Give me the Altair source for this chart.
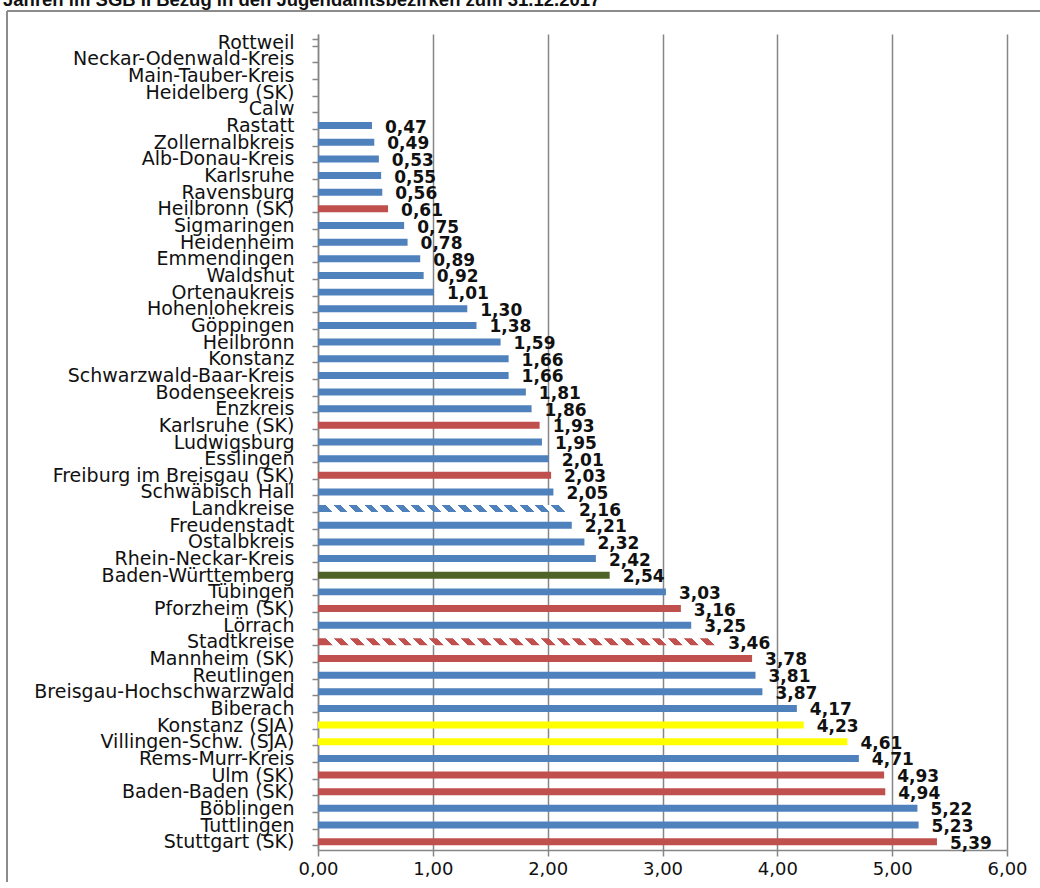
import altair as alt
import pandas as pd

title_text = "Jahren im SGB II Bezug in den Jugendamtsbezirken zum 31.12.2017"

names = [
    "Rottweil", "Neckar-Odenwald-Kreis", "Main-Tauber-Kreis", "Heidelberg (SK)", "Calw",
    "Rastatt", "Zollernalbkreis", "Alb-Donau-Kreis", "Karlsruhe", "Ravensburg",
    "Heilbronn (SK)", "Sigmaringen", "Heidenheim", "Emmendingen", "Waldshut",
    "Ortenaukreis", "Hohenlohekreis", "Göppingen", "Heilbronn", "Konstanz",
    "Schwarzwald-Baar-Kreis", "Bodenseekreis", "Enzkreis", "Karlsruhe (SK)", "Ludwigsburg",
    "Esslingen", "Freiburg im Breisgau (SK)", "Schwäbisch Hall", "Landkreise", "Freudenstadt",
    "Ostalbkreis", "Rhein-Neckar-Kreis", "Baden-Württemberg", "Tübingen", "Pforzheim (SK)",
    "Lörrach", "Stadtkreise", "Mannheim (SK)", "Reutlingen", "Breisgau-Hochschwarzwald",
    "Biberach", "Konstanz (SJA)", "Villingen-Schw. (SJA)", "Rems-Murr-Kreis", "Ulm (SK)",
    "Baden-Baden (SK)", "Böblingen", "Tuttlingen", "Stuttgart (SK)",
]
values = [
    0, 0, 0, 0, 0,
    0.47, 0.49, 0.53, 0.55, 0.56,
    0.61, 0.75, 0.78, 0.89, 0.92,
    1.01, 1.30, 1.38, 1.59, 1.66,
    1.66, 1.81, 1.86, 1.93, 1.95,
    2.01, 2.03, 2.05, 2.16, 2.21,
    2.32, 2.42, 2.54, 3.03, 3.16,
    3.25, 3.46, 3.78, 3.81, 3.87,
    4.17, 4.23, 4.61, 4.71, 4.93,
    4.94, 5.22, 5.23, 5.39,
]
types = [
    "LK", "LK", "LK", "SK", "LK",
    "LK", "LK", "LK", "LK", "LK",
    "SK", "LK", "LK", "LK", "LK",
    "LK", "LK", "LK", "LK", "LK",
    "LK", "LK", "LK", "SK", "LK",
    "LK", "SK", "LK", "LK_sum", "LK",
    "LK", "LK", "BW", "LK", "SK",
    "LK", "SK_sum", "SK", "LK", "LK",
    "LK", "SJA", "SJA", "LK", "SK",
    "SK", "LK", "LK", "SK",
]
x_ticks = [0, 1, 2, 3, 4, 5, 6]

df = pd.DataFrame({"name": names, "value": values, "typ": types})

BLUE = "#4F81BD"
RED = "#C0504D"
GREEN = "#4F6228"
YELLOW = "#FFFF00"
GRID = "#868686"

PLOT_W = 689
PLOT_H = 816
BAR_H = 7.0


def hatch(color, value, period=16.0, frac=0.5):
    w = value / 6.0 * PLOT_W
    n = max(1, int(round(w / period)))
    stops = []
    for i in range(n):
        a = i / n
        b = (i + frac) / n
        c = (i + 1) / n
        stops += [
            alt.GradientStop(offset=a, color=color),
            alt.GradientStop(offset=b, color=color),
            alt.GradientStop(offset=b, color="#ffffff"),
            alt.GradientStop(offset=c, color="#ffffff"),
        ]
    k = BAR_H / w
    return alt.LinearGradient(gradient="linear", stops=stops, x1=0, x2=1, y1=k, y2=0)


y_enc = alt.Y(
    "name:N",
    sort=names,
    title=None,
    scale=alt.Scale(paddingInner=0.58, paddingOuter=0.29),
    axis=alt.Axis(
        domain=True, domainColor=GRID, domainWidth=1.5,
        ticks=True, tickBand="extent", tickColor=GRID, tickWidth=1.5, tickSize=6,
        labelFont="DejaVu Sans", labelFontSize=19, labelColor="#111111",
        labelPadding=18, labelLimit=400, grid=False,
    ),
)
x_enc = alt.X(
    "value:Q",
    title=None,
    scale=alt.Scale(domain=[0, 6], nice=False),
    axis=alt.Axis(
        values=x_ticks, grid=True, gridColor=GRID, gridWidth=1.5,
        domain=True, domainColor=GRID, domainWidth=1.5,
        ticks=True, tickColor=GRID, tickWidth=1.5, tickSize=6,
        labelExpr="replace(format(datum.value, '.2f'), '.', ',')",
        labelFont="DejaVu Sans", labelFontSize=18, labelColor="#111111",
        labelPadding=4, labelFlush=False,
    ),
)

base = alt.Chart(df)

bars = base.transform_filter(
    alt.FieldOneOfPredicate(field="typ", oneOf=["LK", "SK", "BW", "SJA"])
).mark_bar().encode(
    x=x_enc,
    y=y_enc,
    color=alt.Color(
        "typ:N",
        scale=alt.Scale(domain=["LK", "SK", "BW", "SJA"], range=[BLUE, RED, GREEN, YELLOW]),
        legend=None,
    ),
)

lk_val = values[names.index("Landkreise")]
sk_val = values[names.index("Stadtkreise")]

hatch_lk = base.transform_filter(alt.datum.typ == "LK_sum").mark_bar(
    fill=hatch(BLUE, lk_val)
).encode(x=x_enc, y=y_enc)

hatch_sk = base.transform_filter(alt.datum.typ == "SK_sum").mark_bar(
    fill=hatch(RED, sk_val)
).encode(x=x_enc, y=y_enc)

labels = base.transform_filter(alt.datum.value > 0).transform_calculate(
    label="replace(format(datum.value, '.2f'), '.', ',')"
).mark_text(
    align="left", baseline="middle", dx=13, dy=2,
    font="DejaVu Sans", fontWeight="bold", fontSize=17, color="#111111",
).encode(x=x_enc, y=y_enc, text="label:N")

one = pd.DataFrame({"k": [0]})

frame_top = alt.Chart(one).mark_rule(color="#8c8c8c", strokeWidth=2).encode(
    x=alt.value(-311), x2=alt.value(760), y=alt.value(-23)
)
frame_left = alt.Chart(one).mark_rule(color="#8c8c8c", strokeWidth=2).encode(
    x=alt.value(-311), y=alt.value(-23), y2=alt.value(900)
)

title = alt.Chart(one).mark_text(
    align="left", baseline="alphabetic", font="Liberation Sans",
    fontWeight="bold", fontSize=18.5, color="#111111",
).encode(x=alt.value(-315), y=alt.value(-28), text=alt.value(title_text))

chart = alt.layer(frame_top, frame_left, title, bars, hatch_lk, hatch_sk, labels).properties(
    width=PLOT_W,
    height=PLOT_H,
    autosize=alt.AutoSizeParams(type="none"),
    padding={"left": 318, "top": 34, "right": 33, "bottom": 32},
    background="white",
).configure_view(stroke=None)

chart.save("out.html", embed_options={"renderer": "svg", "actions": False})
